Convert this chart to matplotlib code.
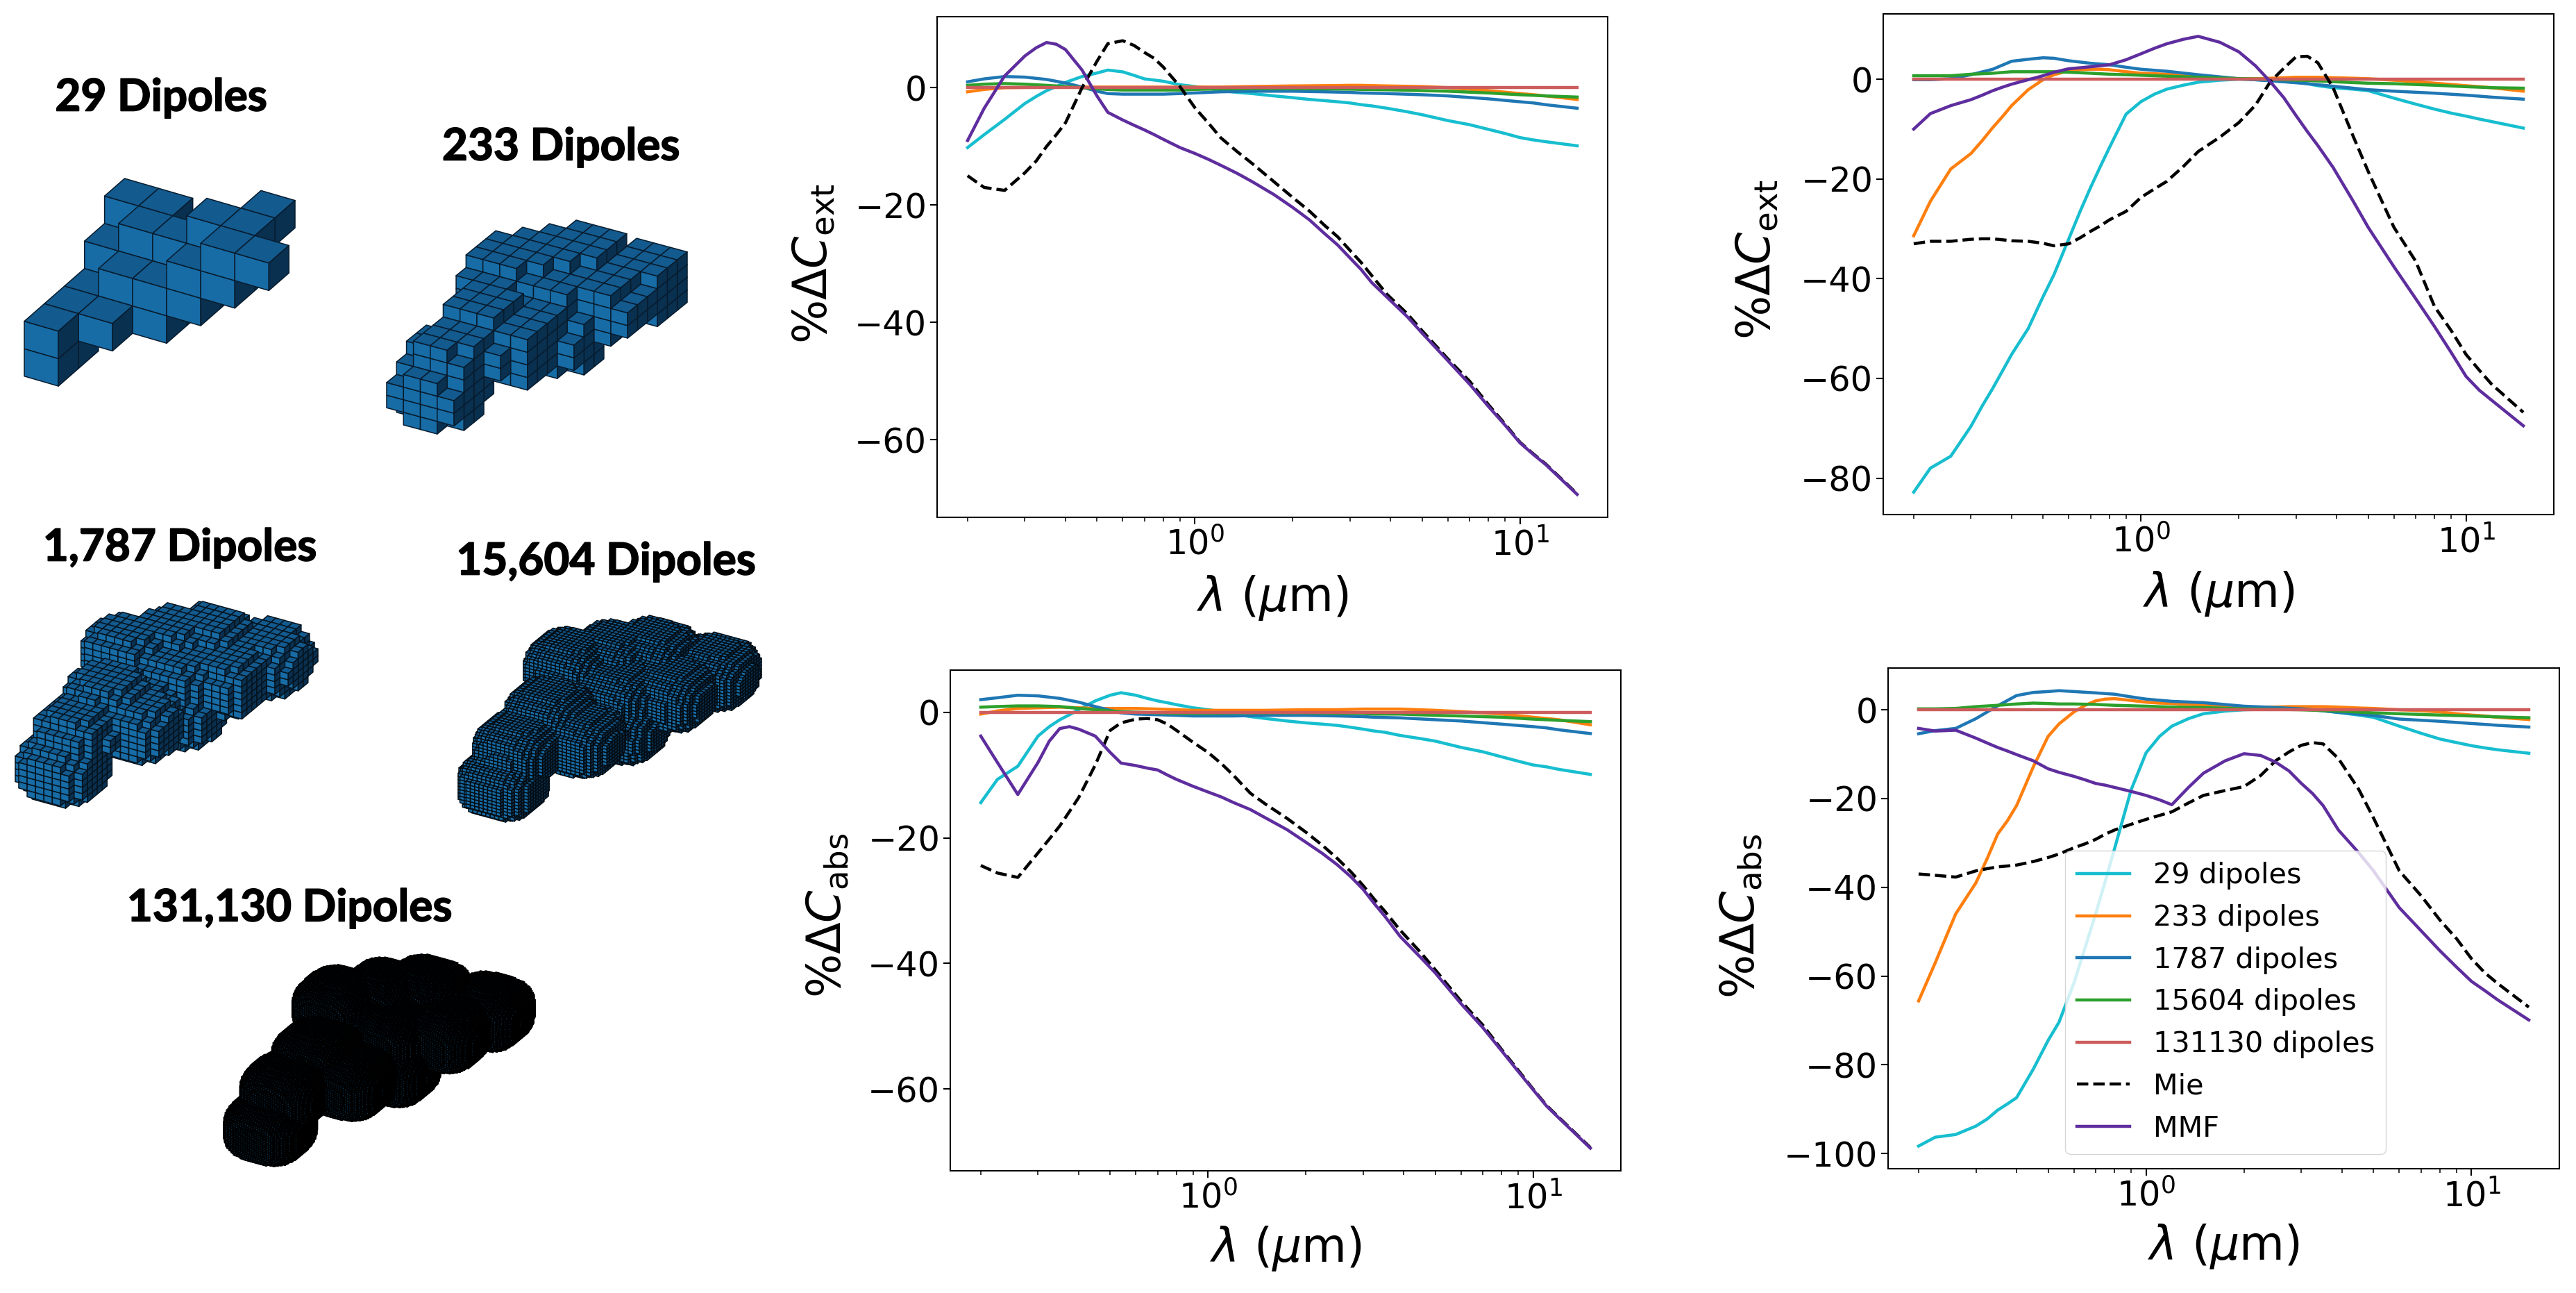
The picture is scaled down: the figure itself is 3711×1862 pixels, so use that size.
import matplotlib
matplotlib.use('Agg')
import matplotlib.pyplot as plt
import matplotlib.patheffects as pe
import numpy as np
from matplotlib.collections import PolyCollection

W, H = 3711, 1862

lam = [0.2, 0.225, 0.26, 0.3, 0.35, 0.4, 0.45, 0.5, 0.54, 0.6, 0.7, 0.8, 0.9, 1.0,
       1.2, 1.5, 2.0, 2.5, 3.0, 3.25, 3.9, 5.0, 6.0, 8.0, 10.0, 11.0, 12.0, 15.0]
# more wavelengths, read only for the curves that move a lot
lam_more = [.325, .375, .65, .75, 1.1, 1.35, 1.75, 2.25, 2.75, 3.5, 4.5, 7.0, 9.0]

labels = ['29 dipoles', '233 dipoles', '1787 dipoles', '15604 dipoles', '131130 dipoles', 'Mie', 'MMF']
colors = ['#17becf', '#ff7f0e', '#1f77b4', '#2ca02c', '#cd5c5c', 'black', '#5e2d9e']

# reference curve, the same in all four panels
d131130 = [0.0, 0.0, 0.0, 0.0, 0.0, 0.0, 0.0, 0.0, 0.0, 0.0, 0.0, 0.0, 0.0, 0.0,
           0.0, 0.0, 0.0, 0.0, 0.0, 0.0, 0.0, 0.0, 0.0, 0.0, 0.0, 0.0, 0.0, 0.0]

# top middle
a_29 = [-10.2, -8, -5.4, -2.7, -.5, .9, 1.9, 2.5, 3, 2.7, 1.5, 1.1, .5, .2,
        -.5, -1, -1.7, -2.2, -2.6, -2.9, -3.5, -4.6, -5.6, -7.1, -8.5, -8.9, -9.2, -9.9]
a_29_more = [-1.5, .2, 2.1, 1.3, -.1, -.8, -1.4, -2, -2.4, -3.1, -4.1, -6.3, -7.8]
a_233 = [-.7, -.3, 0, .05, .1, .1, .1, .1, .1, .1, .1, .1, .1, .1,
         .1, .2, .3, .35, .4, .4, .3, .2, 0, -.5, -1, -1.2, -1.4, -2]
a_1787 = [1, 1.5, 1.9, 1.8, 1.4, .8, .1, -.6, -1, -1.1, -1.1, -1.1, -1, -.9,
          -.7, -.6, -.6, -.7, -.8, -.9, -1, -1.2, -1.4, -1.9, -2.4, -2.6, -2.9, -3.5]
a_15604 = [.4, .6, .7, .6, .4, .2, 0, -.2, -.3, -.4, -.4, -.4, -.4, -.3,
           -.2, -.15, -.15, -.2, -.25, -.3, -.35, -.5, -.6, -.9, -1.2, -1.3, -1.4, -1.6]
a_mie = [-15, -17, -17.5, -14.5, -10, -6, 0, 4.5, 7.5, 8, 6, 3.5, .2, -3.4,
         -8.5, -12.9, -18.7, -23.4, -27.7, -29.8, -35.2, -41.4, -46.2, -54, -60.4, -62.4, -64.1, -69.2]
a_mie_more = [-12.5, -8, 7.2, 5, -6, -10.9, -16, -21, -25.4, -32, -38.5, -50, -57.3]
a_mmf = [-9, -3.5, 2, 5.4, 7.7, 6.5, 3, -1.4, -4.2, -5.5, -7.2, -8.8, -10.2, -11.2,
         -13.2, -16, -20.4, -24.8, -29, -31, -35.7, -41.8, -46.5, -54.3, -60.5, -62.5, -64.2, -69.3]
a_mmf_more = [6.8, 7.4, -6.4, -8, -12.2, -14.6, -18.2, -22.5, -26.8, -33.2, -39, -50.5, -57.5]

# top right
b_29 = [-82.8, -78, -75.6, -69.6, -62, -55.2, -50, -43.6, -39.2, -32, -21.7, -13.7, -7, -4.5,
        -2, -.6, 0, -.3, -.6, -.9, -1.7, -2.3, -3.8, -6, -7.4, -8, -8.5, -9.8]
b_29_more = [-65.5, -58.5, -26.5, -17.5, -3, -1.2, -.2, -.1, -.5, -1.3, -2, -5, -6.8]
b_233 = [-31.4, -24.5, -18, -14.9, -9.7, -5.3, -2.1, -.1, .9, 1.7, 2, 1.9, 1.5, 1.2,
         1, .7, .1, .2, .4, .4, .3, .1, -.2, -.8, -1.3, -1.5, -1.7, -2.4]
b_233_more = [-12.3, -7.5, 1.9, 2, 1.1, .85, .4, .1, .3, .4, .2, -.5, -1.05]
b_1787 = [-.1, -.1, .1, .9, 2, 3.6, 4, 4.3, 4.2, 3.7, 3.2, 2.9, 2.4, 2,
          1.6, .9, .1, -.3, -.7, -.9, -1.4, -2.1, -2.4, -2.8, -3.2, -3.4, -3.6, -4]
b_15604 = [.7, .7, .7, 1, 1.2, 1.5, 1.5, 1.5, 1.5, 1.4, 1.2, 1, .9, .8,
           .6, .4, .1, 0, -.2, -.25, -.5, -.8, -.9, -1.2, -1.5, -1.6, -1.7, -1.8]
b_mie = [-33, -32.5, -32.5, -32.1, -32, -32.4, -32.5, -32.9, -33.4, -33, -30.5, -28.2, -26.5, -23.7,
         -20.5, -14.5, -8.7, -.5, 4.5, 4.6, -1.7, -18.5, -29.7, -45.6, -55.2, -58.4, -61.2, -66.8]
b_mie_more = [-32, -32.2, -31.8, -29.4, -22, -17.5, -11.6, -5.2, 2.2, 3.3, -11.5, -36.5, -50.4]
b_mmf = [-10, -6.9, -5.3, -4.1, -2.3, -1, -.1, .7, 1.4, 2.1, 2.5, 2.9, 3.9, 5.1,
         7.1, 8.6, 5.5, -.5, -7.3, -10.5, -17.7, -29.7, -37.6, -49.6, -59.6, -62.4, -64.4, -69.5]
b_mmf_more = [-3.2, -1.6, 2.3, 2.7, 6.2, 8, 7.4, 2.7, -3.7, -13.3, -24.5, -44, -54.8]

# bottom middle
c_29 = [-14.4, -10.7, -8.6, -3.8, -1.2, .4, 1.8, 2.7, 3.1, 2.7, 1.8, 1.2, .7, .4,
        -.3, -1, -1.7, -2.1, -2.7, -3, -3.7, -4.6, -5.6, -7.1, -8.4, -8.7, -9.1, -9.9]
c_29_more = [-2.3, -.4, 2.2, 1.5, .1, -.7, -1.4, -1.9, -2.4, -3.2, -4.2, -6.3, -7.8]
c_233 = [-.3, .2, .6, .7, .8, .7, .6, .6, .6, .6, .5, .4, .3, .3,
         .3, .3, .4, .4, .5, .5, .5, .3, .1, -.3, -.8, -1, -1.2, -2]
c_1787 = [2, 2.3, 2.7, 2.6, 2.2, 1.6, .9, .3, -.1, -.3, -.4, -.5, -.6, -.6,
          -.6, -.5, -.5, -.6, -.7, -.8, -.9, -1.2, -1.4, -1.9, -2.3, -2.5, -2.8, -3.4]
c_15604 = [.8, .9, 1, 1, .9, .6, .4, .2, .1, 0, -.1, -.2, -.2, -.2,
           -.1, -.1, -.1, -.2, -.2, -.3, -.3, -.5, -.6, -.8, -1.1, -1.2, -1.3, -1.5]
c_mie = [-24.4, -25.6, -26.3, -22.4, -18.1, -13.6, -8.4, -2.9, -1.7, -1.1, -1.2, -2.9, -4.8, -6.4,
         -10.1, -14.6, -19.1, -23.3, -27.6, -29.8, -34.7, -41, -46, -53.7, -60, -62.6, -64.5, -69.3]
c_mie_more = [-20.2, -15.8, -1, -1.9, -8.2, -12.9, -16.9, -21.2, -25.4, -31.7, -38.2, -49.8, -57]
c_mmf = [-3.8, -8, -13.1, -8, -2.6, -2.7, -3.8, -6.4, -8.1, -8.5, -9.2, -10.7, -11.8, -12.7,
         -14.4, -16.8, -20.7, -24.3, -28.2, -30.5, -35.7, -41.5, -46.4, -53.9, -60.1, -62.7, -64.6, -69.4]
c_mmf_more = [-4.6, -2.3, -8.9, -10, -13.5, -15.5, -18.7, -22.5, -26.2, -32.5, -39, -50.2, -57.2]

# bottom right
d_29 = [-98.3, -96.3, -95.7, -93.8, -90.2, -87.4, -81, -74.5, -70.4, -61.6, -46, -31.3, -18, -9.7,
        -3.7, -.9, 0, .1, .1, 0, -.6, -1.7, -3.7, -6.6, -8.1, -8.6, -9, -9.8]
d_29_more = [-92.2, -88.8, -53.5, -38.5, -6, -2, -.3, .1, .1, -.2, -1.2, -5.3, -7.4]
d_233 = [-65.6, -57, -46, -39, -28, -21.6, -12.9, -6, -3.2, -.5, 2, 2.5, 2.1, 1.7,
         1.4, 1.1, .6, .6, .7, .7, .6, .3, 0, -.5, -1.2, -1.4, -1.7, -2.2]
d_233_more = [-33.5, -25, 1, 2.4, 1.5, 1.2, .8, .6, .7, .7, .4, -.2, -.9]
d_1787 = [-5.4, -4.7, -4.2, -2, .9, 3.2, 3.9, 4.1, 4.3, 4.1, 3.8, 3.5, 2.9, 2.4,
          1.9, 1.6, .8, .5, .2, 0, -.6, -1.3, -2.1, -2.6, -3.1, -3.3, -3.5, -3.9]
d_15604 = [.2, .2, .3, .7, 1, 1.3, 1.5, 1.4, 1.3, 1.3, 1.2, 1, .9, .8,
           .6, .5, .2, .1, 0, -.1, -.3, -.7, -.9, -1.2, -1.4, -1.5, -1.6, -1.8]
d_mie = [-37, -37.3, -37.7, -36.3, -35.4, -35, -34.2, -33.3, -32.5, -31.1, -29.2, -27.1, -25.8, -24.7,
         -23, -19.3, -17.3, -11.5, -8, -7.4, -11, -24.4, -36.3, -47.4, -56.1, -59.3, -61.6, -67]
d_mie_more = [-35.8, -35.2, -30.2, -28, -23.8, -21, -18.2, -14.8, -9.5, -7.7, -17.9, -41.9, -51.6]
d_mmf = [-4.2, -4.8, -4.6, -6.4, -8.5, -10.1, -11.5, -13.3, -14.1, -15, -16.6, -17.5, -18.4, -19.3,
         -21.4, -14.3, -9.9, -11.8, -16.6, -18.9, -27.1, -36.3, -44.6, -54.3, -61.2, -63.3, -65.3, -69.9]
d_mmf_more = [-7.5, -9.3, -15.8, -17, -20.3, -17.5, -11.5, -10.3, -13.8, -21.6, -32.2, -49.8, -58]

# particle drawings
# the coarse one read cube by cube, the finer ones from monomer centres (in coarse cube units)
cubes_29 = [(0, 0, 0), (0, 0, 1), (0, 1, 0), (0, 1, 1), (0, 2, 1), (1, 1, 1), (1, 2, 1), (1, 2, 2), (2, 2, 1), (2, 2, 2),
            (3, 2, 2), (3, 2, 3), (4, 2, 3), (4, 2, 4), (5, 2, 4), (0, 3, 2), (1, 3, 2), (1, 3, 3), (2, 3, 1), (2, 3, 2),
            (2, 3, 3), (3, 3, 3), (3, 3, 4), (4, 3, 3), (4, 3, 4), (0, 4, 3), (1, 4, 3), (4, 4, 4), (3, 3, 2)]
monomers = [(0, 0, 0), (.13, .55, 1), (1.22, 1.7, 1), (.28, 1.78, 1.5), (1.47, 3.41, .5), (-.23, 3.66, 2),
            (.54, 4.53, 2), (1.32, 5.14, 2), (2.72, 5.74, 1.5), (2.36, 4.29, 1.5), (1.24, 3.59, 1.5)]
monomer_r = 1.0
divisions = [1, 2, 4, 8, 16]
captions = ['29 Dipoles', '233 Dipoles', '1,787 Dipoles', '15,604 Dipoles', '131,130 Dipoles']
caption_xy = [(232, 141), (808, 212), (259, 789), (873, 809), (417, 1308)]
boxes = [(35, 257, 425, 556), (557, 317, 990, 625), (22, 866, 458, 1164), (660, 886, 1097, 1184), (322, 1374, 771, 1680)]
edge_colors = ['#071c2e', '#071c2e', '#05141f', '#030d14', 'black']
edge_widths = [1.1, 1.1, 1.1, 1.1, 1.3]


def voxel_mask(div):
    if div == 1:
        c = np.array(cubes_29) + 1
        mask = np.zeros(c.max(axis=0) + 2, dtype=bool)
        mask[c[:, 0], c[:, 1], c[:, 2]] = True
        return mask
    m = np.array(monomers)
    lo = np.floor(m.min(axis=0) - monomer_r) - 1
    hi = np.ceil(m.max(axis=0) + monomer_r) + 1
    axes = [lo[i] + (np.arange(int((hi[i] - lo[i]) * div)) + .5) / div for i in range(3)]
    xx, yy, zz = np.meshgrid(*axes, indexing='ij')
    mask = np.zeros(xx.shape, dtype=bool)
    # blunt lobes, the particle is boxier than real spheres
    for cx, cy, cz in monomers:
        mask |= abs(xx - cx)**3 + abs(yy - cy)**3 + abs(zz - cz)**3 < monomer_r**3
    return mask


def voxel_faces(div):
    mask = voxel_mask(div)
    front = mask.copy(); front[:, 1:, :] &= ~mask[:, :-1, :]
    top = mask.copy(); top[:, :, :-1] &= ~mask[:, :, 1:]
    right = mask.copy(); right[:-1, :, :] &= ~mask[1:, :, :]

    corners = [
        (front, [(0, 0, 0), (1, 0, 0), (1, 0, 1), (0, 0, 1)], '#176ca6'),
        (top, [(0, 0, 1), (1, 0, 1), (1, 1, 1), (0, 1, 1)], '#135a8e'),
        (right, [(1, 0, 0), (1, 1, 0), (1, 1, 1), (1, 0, 1)], '#0a3050'),
    ]
    polys, keys, cols = [], [], []
    for sel, quad, col in corners:
        idx = np.argwhere(sel)
        quad = np.array(quad)
        polys.append(idx[:, None, :] + quad[None, :, :])
        keys.append(idx[:, 0] - idx[:, 1] + idx[:, 2])
        cols += [col] * len(idx)
    polys = np.concatenate(polys).astype(float)
    order = np.argsort(np.concatenate(keys), kind='stable')
    polys = polys[order]
    cols = [cols[i] for i in order]
    sx = 1.24 * polys[..., 0] + .73 * polys[..., 1]
    sy = .36 * polys[..., 0] - .64 * polys[..., 1] - polys[..., 2]
    return np.stack([sx, sy], axis=-1), cols


fig = plt.figure(figsize=(W / 100, H / 100), dpi=100)

# left side, pixel coordinates
ax0 = fig.add_axes([0, 0, 1, 1])
ax0.set_xlim(0, W)
ax0.set_ylim(H, 0)
ax0.axis('off')
for i, div in enumerate(divisions):
    box = boxes[i]
    verts, cols = voxel_faces(div)
    mn = verts.reshape(-1, 2).min(axis=0)
    mx = verts.reshape(-1, 2).max(axis=0)
    verts = (verts - mn) / (mx - mn) * [box[2] - box[0], box[3] - box[1]] + [box[0], box[1]]
    ax0.add_collection(PolyCollection(verts, facecolors=cols, edgecolors=edge_colors[i], linewidths=edge_widths[i]))
    ax0.text(caption_xy[i][0], caption_xy[i][1], captions[i], family='Lato', weight='bold', fontsize=46,
             ha='center', va='center', color='black',
             path_effects=[pe.withStroke(linewidth=1.2, foreground='black')])

lam_all = np.array(lam + lam_more)


def panel(box, ylim, series, ylabel, ylab_pos, xlab_y, yticks):
    ax = fig.add_axes([box[0] / W, 1 - box[3] / H, (box[2] - box[0]) / W, (box[3] - box[1]) / H])
    for y, lb, c in zip(series, labels, colors):
        if len(y) == len(lam):
            x, yy = np.array(lam), np.array(y)
        else:
            order = np.argsort(lam_all)
            x, yy = lam_all[order], np.array(y)[order]
        if lb == 'Mie':
            ax.plot(x, yy, '--', color=c, lw=3.2, label=lb)
        else:
            ax.plot(x, yy, color=c, lw=3.2, label=lb)
    ax.set_xscale('log')
    ax.set_ylim(*ylim)
    ax.set_yticks(yticks)
    ax.tick_params(axis='both', which='major', labelsize=35.5, length=7.2, width=1.5)
    ax.tick_params(axis='x', which='minor', length=4.2, width=1.1)
    for s in ax.spines.values():
        s.set_linewidth(1.5)
    ax.set_ylabel(ylabel, fontsize=48, va='center')
    ax.yaxis.set_label_coords(*ylab_pos)
    ax.set_xlabel(r'$\lambda$ ($\mu$m)', fontsize=48, va='center')
    ax.xaxis.set_label_coords(.5, xlab_y)
    return ax


ext = r'%$\Delta C_{\mathrm{ext}}$'
abso = r'%$\Delta C_{\mathrm{abs}}$'
panel((1350, 24, 2316, 745), (-73.2, 12.1),
      [a_29 + a_29_more, a_233, a_1787, a_15604, d131130, a_mie + a_mie_more, a_mmf + a_mmf_more],
      ext, (-.184, .507), -.161, [0, -20, -40, -60])
panel((2713, 20, 3679, 741), (-87.3, 13.1),
      [b_29 + b_29_more, b_233 + b_233_more, b_1787, b_15604, d131130, b_mie + b_mie_more, b_mmf + b_mmf_more],
      ext, (-.188, .51), -.158, [0, -20, -40, -60, -80])
panel((1369, 965, 2335, 1686), (-73, 6.7),
      [c_29 + c_29_more, c_233, c_1787, c_15604, d131130, c_mie + c_mie_more, c_mmf + c_mmf_more],
      abso, (-.183, .51), -.155, [0, -20, -40, -60])
axd = panel((2720, 962, 3687, 1683), (-103.4, 9.4),
            [d_29 + d_29_more, d_233 + d_233_more, d_1787, d_15604, d131130, d_mie + d_mie_more, d_mmf + d_mmf_more],
            abso, (-.219, .505), -.155, [0, -20, -40, -60, -80, -100])
axd.legend(loc='lower left', bbox_to_anchor=(.264, .029), borderaxespad=0, fontsize=29.8, handlelength=1.85)

fig.savefig('out.png', dpi=100)
